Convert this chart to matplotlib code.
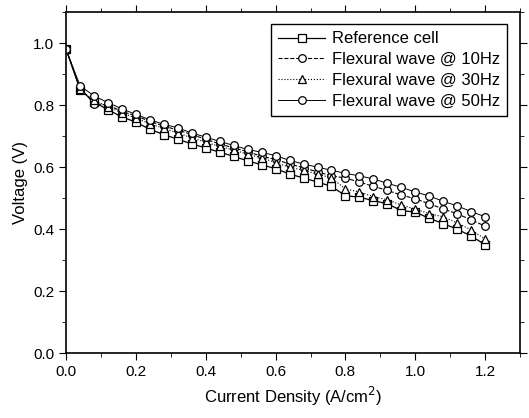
import numpy as np
import matplotlib.pyplot as plt
from matplotlib.ticker import MultipleLocator

plt.rcParams['font.family'] = ['Liberation Sans', 'DejaVu Sans']

current = np.round(np.arange(0, 1.2001, 0.04), 2)

reference = [0.98, 0.850, 0.810, 0.785, 0.762, 0.745, 0.722, 0.705, 0.690, 0.675,
             0.662, 0.648, 0.635, 0.620, 0.608, 0.595, 0.578, 0.565, 0.552, 0.538,
             0.508, 0.503, 0.492, 0.482, 0.460, 0.455, 0.435, 0.418, 0.400, 0.378, 0.350]
wave10 = [0.98, 0.855, 0.805, 0.800, 0.780, 0.765, 0.748, 0.732, 0.720, 0.705,
          0.690, 0.675, 0.662, 0.650, 0.635, 0.625, 0.610, 0.598, 0.585, 0.572,
          0.565, 0.552, 0.538, 0.525, 0.510, 0.498, 0.482, 0.465, 0.450, 0.430, 0.410]
wave30 = [0.98, 0.852, 0.815, 0.795, 0.775, 0.758, 0.740, 0.725, 0.710, 0.695,
          0.680, 0.667, 0.655, 0.642, 0.630, 0.615, 0.600, 0.590, 0.578, 0.565,
          0.530, 0.520, 0.505, 0.495, 0.478, 0.465, 0.450, 0.440, 0.420, 0.398, 0.368]
wave50 = [0.98, 0.862, 0.830, 0.808, 0.788, 0.770, 0.753, 0.738, 0.727, 0.710,
          0.697, 0.683, 0.670, 0.657, 0.648, 0.637, 0.622, 0.610, 0.600, 0.590,
          0.580, 0.572, 0.562, 0.548, 0.535, 0.520, 0.507, 0.490, 0.475, 0.457, 0.440]

labels = ['Reference cell', 'Flexural wave @ 10Hz', 'Flexural wave @ 30Hz', 'Flexural wave @ 50Hz']

fig = plt.figure(figsize=(5.29, 4.18), dpi=100)
ax = fig.add_axes([0.125, 0.155, 0.858, 0.816])

mk = dict(markerfacecolor='white', markeredgecolor='black', markersize=5.5,
          markeredgewidth=0.9, color='black')
ax.plot(current, reference, '-', marker='s', lw=0.9, label=labels[0], **mk)
ax.plot(current, wave10, '--', marker='o', lw=0.8, label=labels[1], **mk)
ax.plot(current, wave30, ':', marker='^', lw=0.8, label=labels[2], **mk)
ax.plot(current, wave50, '-', marker='o', lw=0.7, label=labels[3], **mk)

ax.set_xlim(0, 1.3)
ax.set_ylim(0, 1.1)
ax.xaxis.set_major_locator(MultipleLocator(0.2))
ax.xaxis.set_minor_locator(MultipleLocator(0.1))
ax.yaxis.set_major_locator(MultipleLocator(0.2))
ax.yaxis.set_minor_locator(MultipleLocator(0.1))
ax.tick_params(which='both', direction='out', top=True, right=True, labelsize=11)
ax.tick_params(which='major', length=5)
ax.tick_params(which='minor', length=3)
ax.xaxis.set_major_formatter(plt.FormatStrFormatter('%.1f'))
ax.yaxis.set_major_formatter(plt.FormatStrFormatter('%.1f'))
for s in ax.spines.values():
    s.set_linewidth(1.2)

ax.set_xlabel('Current Density (A/cm$^2$)', fontsize=12)
ax.set_ylabel('Voltage (V)', fontsize=12)

leg = ax.legend(loc='upper right', fontsize=12, fancybox=False, edgecolor='black',
                framealpha=1, handlelength=2.8, handletextpad=0.4, borderpad=0.45,
                labelspacing=0.35, bbox_to_anchor=(0.99, 0.99))
leg.get_frame().set_linewidth(1.0)

plt.savefig('out.png', dpi=100)
